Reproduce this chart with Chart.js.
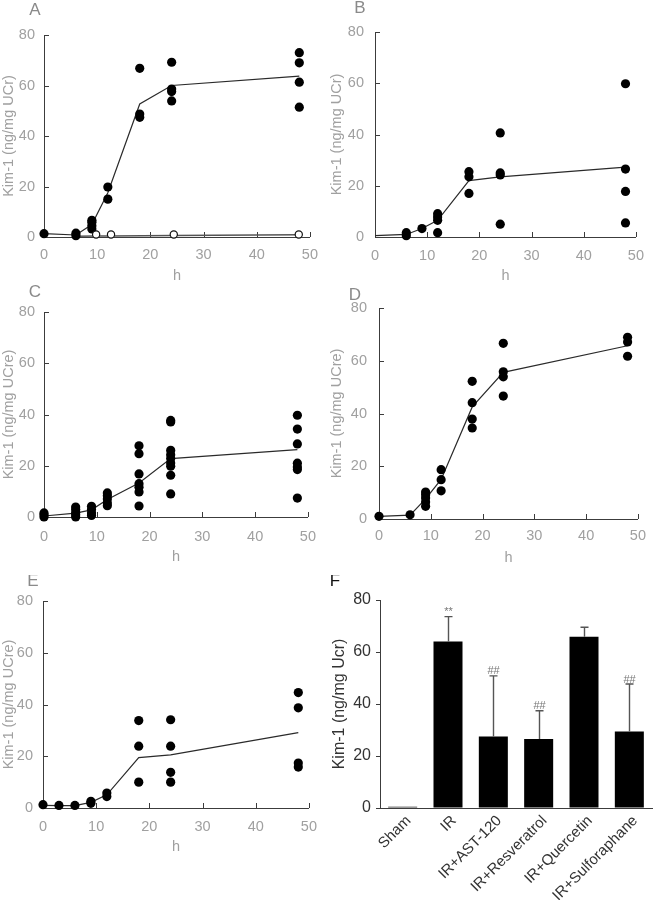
<!DOCTYPE html>
<html><head><meta charset="utf-8">
<script src="https://cdn.jsdelivr.net/npm/chart.js@4.4.1/dist/chart.umd.min.js"></script>
<style>
html,body{margin:0;padding:0;background:#fff;}
body{width:654px;height:900px;position:relative;overflow:hidden;}
canvas{position:absolute;}
</style></head>
<body>
<canvas id="cA"></canvas><canvas id="cB"></canvas><canvas id="cC"></canvas>
<canvas id="cD"></canvas><canvas id="cE"></canvas><canvas id="cF"></canvas>
<script>
// ---------------- DATA ----------------
const tickLabelsX = [0, 10, 20, 30, 40, 50];
const tickLabelsY = [0, 20, 40, 60, 80];

// Panel A (IR)
const hoursA = [0, 6, 9, 12, 18, 24, 48];
const meanA  = [1.3, 0.8, 4.9, 17.5, 52.7, 60.0, 63.7];
const ptsA   = [[1.3], [1.5, 0.5], [6.6, 5.8, 4.5, 3.2], [19.8, 15.0], [66.8, 48.7, 47.4], [69.2, 58.6, 57.6, 53.9], [73.0, 69.0, 61.3, 51.4]];
// Panel A (Sham, open circles)
const shamHoursA = [6, 9.8, 12.6, 24.4, 47.9];
const shamMeanA  = [0.3, 0.4, 0.4, 0.6, 0.9];
const shamPtHoursA = [9.8, 12.6, 24.4, 47.9];
const shamPtsA     = [1.0, 1.0, 1.0, 1.0];

// Panel B
const hoursB = [0, 6, 9, 12, 18, 24, 48];
const meanB  = [0.5, 1.0, 3.3, 6.5, 22.0, 23.5, 27.3];
const ptsB   = [[], [1.7, 0.5], [3.3], [9.1, 7.8, 6.5, 1.7], [25.5, 23.5, 17.0], [40.6, 25.0, 24.2, 5.0], [59.8, 26.5, 17.8, 5.5]];

// Panel C
const hoursC = [0, 6, 9, 12, 18, 24, 48];
const meanC  = [0.4, 1.5, 2.8, 6.8, 13.3, 22.8, 26.3];
const ptsC   = [[1.6, 0.9, 0], [3.9, 2.9, 1.8, 0.9, 0], [4.2, 2.9, 1.6, 0.6], [9.4, 8.3, 7.0, 5.5, 4.4],
                [27.8, 24.7, 16.8, 13.0, 11.6, 9.8, 4.3], [37.7, 37.1, 26.0, 24.3, 22.8, 21.1, 19.8, 16.3, 9.0],
                [39.7, 34.3, 28.5, 21.0, 19.5, 18.5, 7.4]];

// Panel D
const hoursD = [0, 6, 9, 12, 18, 24, 48];
const meanD  = [1.0, 1.5, 7.6, 15.0, 42.5, 55.6, 65.7];
const ptsD   = [[1.0], [1.6], [10.2, 9.2, 8.0, 6.4, 4.8], [18.7, 14.9, 10.7], [52.2, 44.1, 37.9, 34.5], [66.6, 55.8, 53.9, 46.6], [68.9, 67.1, 61.7]];

// Panel E
const hoursE = [0, 3, 6, 9, 12, 18, 24, 48];
const meanE  = [1.0, 0.9, 0.9, 2.2, 5.1, 19.5, 20.5, 29.1];
const ptsE   = [[1.3], [1.0], [1.0], [2.6, 1.8], [5.8, 4.4], [33.8, 23.9, 10.0], [34.1, 23.9, 13.8, 10.0], [44.6, 38.7, 17.4, 15.8]];

// Panel F
const groupsF = ['Sham', 'IR', 'IR+AST-120', 'IR+Resveratrol', 'IR+Quercetin', 'IR+Sulforaphane'];
const meansF  = [0.5, 64.0, 27.5, 26.5, 65.9, 29.4];
const sdF     = [0, 9.6, 23.3, 10.9, 3.6, 18.3];
const marksF  = ['', '**', '##', '##', '', '##'];

// ---------------- STYLE / HELPERS ----------------
const FONT = "'Liberation Sans', Arial, sans-serif";
const GRAY = '#a0a0a0';
const AXIS = '#3c3c3c';
const DARK = '#2a2a2a';

function flatten(hours, pts) {
  const out = [];
  hours.forEach((h, i) => pts[i].forEach(v => out.push({ x: h, y: v })));
  return out;
}
function pairs(xs, ys) { return xs.map((x, i) => ({ x: x, y: ys[i] })); }

function place(id, left, top, w, h) {
  const c = document.getElementById(id);
  c.width = w; c.height = h;
  c.style.left = left + 'px'; c.style.top = top + 'px';
  c.style.width = w + 'px'; c.style.height = h + 'px';
  return c;
}

const panelLabel = {
  id: 'panelLabel',
  afterDraw(chart, args, o) {
    const ctx = chart.ctx;
    ctx.save();
    ctx.fillStyle = o.color;
    ctx.font = '17px ' + FONT;
    ctx.textAlign = 'center';
    ctx.textBaseline = 'middle';
    ctx.fillText(o.text, o.x, o.y);
    ctx.restore();
  }
};

const inwardTicks = {
  id: 'inwardTicks',
  beforeDatasetsDraw(chart) {
    const { ctx, chartArea: a } = chart;
    const xs = chart.scales.x, ys = chart.scales.y;
    ctx.save();
    ctx.strokeStyle = AXIS; ctx.lineWidth = 1;
    ctx.beginPath();
    xs.ticks.forEach(t => {
      const px = Math.round(xs.getPixelForValue(t.value)) + 0.5;
      ctx.moveTo(px, a.bottom); ctx.lineTo(px, a.bottom - 5);
    });
    ys.ticks.forEach(t => {
      const py = Math.round(ys.getPixelForValue(t.value)) + 0.5;
      ctx.moveTo(a.left, py); ctx.lineTo(a.left + 5, py);
    });
    ctx.stroke();
    ctx.restore();
  }
};

function linePanel(p) {
  const W = 327;
  const canvas = place(p.id, p.left, p.top, W, p.h);
  const lh = 14.5 * 1.2;
  const datasets = [
    { type: 'scatter', data: flatten(p.hours, p.pts), pointRadius: 4.6, pointHoverRadius: 4.6,
      backgroundColor: '#000', borderWidth: 0, clip: false, order: 1 },
    { type: 'line', data: pairs(p.hours, p.mean), borderColor: DARK, borderWidth: 1.2,
      pointRadius: 0, fill: false, tension: 0, clip: false, order: 3 }
  ];
  if (p.sham) {
    datasets.push({ type: 'scatter', data: pairs(p.sham.ptHours, p.sham.pts), pointRadius: 3.6,
      backgroundColor: '#fff', borderColor: '#111', borderWidth: 1.2, clip: false, order: 0 });
    datasets.push({ type: 'line', data: pairs(p.sham.hours, p.sham.mean), borderColor: '#555', borderWidth: 1.6,
      pointRadius: 0, fill: false, clip: false, order: 2 });
  }
  new Chart(canvas, {
    data: { datasets },
    options: {
      responsive: false, animation: false, events: [],
      layout: { padding: { left: 0, top: p.T, right: W - p.R, bottom: 0 } },
      plugins: { legend: { display: false }, tooltip: { enabled: false },
        panelLabel: { text: p.letter, x: p.lx, y: p.ly, color: '#8a8a8a' } },
      scales: {
        x: {
          type: 'linear', min: 0, max: 50,
          afterBuildTicks(s) { s.ticks = tickLabelsX.map(v => ({ value: v })); },
          grid: { display: false, drawTicks: false },
          border: { display: true, color: AXIS, width: 1 },
          ticks: { color: GRAY, font: { size: 14.5, family: FONT }, padding: p.xPad, maxRotation: 0 },
          title: { display: true, text: 'h', color: GRAY, font: { size: 14.5, family: FONT },
                   padding: { top: 0, bottom: Math.max(0, p.h - p.hC - lh / 2) } },
          afterFit(s) { s.height = p.h - p.B; }
        },
        y: {
          type: 'linear', min: 0, max: 80,
          afterBuildTicks(s) { s.ticks = tickLabelsY.map(v => ({ value: v })); },
          grid: { display: false, drawTicks: false },
          border: { display: true, color: AXIS, width: 1 },
          ticks: { color: GRAY, font: { size: 14.5, family: FONT }, padding: p.yPad },
          title: { display: true, text: p.ytitle, color: GRAY, font: { size: 14.5, family: FONT },
                   padding: { top: Math.max(0, p.tC - lh / 2), bottom: 0 } },
          afterFit(s) { s.width = p.L; }
        }
      }
    },
    plugins: [inwardTicks, panelLabel]
  });
}

linePanel({ id: 'cA', left: 0, top: 0, h: 290, L: 44, T: 35, R: 312, B: 237,
  hours: hoursA, mean: meanA, pts: ptsA,
  sham: { hours: shamHoursA, mean: shamMeanA, ptHours: shamPtHoursA, pts: shamPtsA },
  ytitle: 'Kim-1 (ng/mg UCr)', tC: 8, yPad: 9, xPad: 9, hC: 276, letter: 'A', lx: 35, ly: 10 });
linePanel({ id: 'cB', left: 327, top: 0, h: 290, L: 48, T: 32, R: 315, B: 237,
  hours: hoursB, mean: meanB, pts: ptsB,
  ytitle: 'Kim-1 (ng/mg UCr)', tC: 10, yPad: 11, xPad: 10, hC: 276, letter: 'B', lx: 33, ly: 8 });
linePanel({ id: 'cC', left: 0, top: 285, h: 290, L: 44, T: 27, R: 315, B: 232,
  hours: hoursC, mean: meanC, pts: ptsC,
  ytitle: 'Kim-1 (ng/mg UCre)', tC: 8, yPad: 9, xPad: 11, hC: 272, letter: 'C', lx: 35, ly: 7 });
linePanel({ id: 'cD', left: 327, top: 285, h: 290, L: 52, T: 23, R: 316, B: 234,
  hours: hoursD, mean: meanD, pts: ptsD,
  ytitle: 'Kim-1 (ng/mg UCre)', tC: 10, yPad: 12, xPad: 8, hC: 273, letter: 'D', lx: 28, ly: 10 });
linePanel({ id: 'cE', left: 0, top: 575, h: 325, L: 43, T: 26, R: 317, B: 233,
  hours: hoursE, mean: meanE, pts: ptsE,
  ytitle: 'Kim-1 (ng/mg UCre)', tC: 8, yPad: 10, xPad: 10, hC: 272, letter: 'E', lx: 33, ly: 6 });

// ---------------- PANEL F ----------------
const errorBars = {
  id: 'errorBars',
  afterDatasetsDraw(chart) {
    const ctx = chart.ctx, ys = chart.scales.y;
    const meta = chart.getDatasetMeta(0);
    ctx.save();
    meta.data.forEach((bar, i) => {
      const x = Math.round(bar.x) + 0.5;
      if (sdF[i] > 0) {
        const top = ys.getPixelForValue(meansF[i] + sdF[i]);
        ctx.strokeStyle = '#555'; ctx.lineWidth = 1.4;
        ctx.beginPath();
        ctx.moveTo(x, bar.y); ctx.lineTo(x, top);
        ctx.moveTo(x - 4, top); ctx.lineTo(x + 4, top);
        ctx.stroke();
        if (marksF[i]) {
          ctx.fillStyle = '#777';
          ctx.font = '11px ' + FONT;
          ctx.textAlign = 'center'; ctx.textBaseline = 'bottom';
          ctx.fillText(marksF[i], x, top + 1);
        }
      }
    });
    ctx.restore();
  }
};

(function () {
  const W = 327, H = 325, L = 53, T = 25, R = 325, B = 233;
  const canvas = place('cF', 327, 575, W, H);
  new Chart(canvas, {
    type: 'bar',
    data: { labels: groupsF, datasets: [{ data: meansF, backgroundColor: ['#333', '#000', '#000', '#000', '#000', '#000'],
      barPercentage: 0.64, categoryPercentage: 1.0, borderWidth: 0 }] },
    options: {
      responsive: false, animation: false, events: [],
      layout: { padding: { left: 0, top: T, right: W - R, bottom: 0 } },
      plugins: { legend: { display: false }, tooltip: { enabled: false },
        panelLabel: { text: 'F', x: 8, y: 6, color: '#111' } },
      scales: {
        x: {
          grid: { display: false, drawTicks: false },
          border: { display: true, color: AXIS, width: 1 },
          ticks: { color: '#333', font: { size: 15, family: FONT }, minRotation: 45, maxRotation: 45,
                   autoSkip: false, padding: 4, labelOffset: 6 },
          afterFit(s) { s.height = H - B; }
        },
        y: {
          min: 0, max: 80,
          afterBuildTicks(s) { s.ticks = tickLabelsY.map(v => ({ value: v })); },
          grid: { display: true, drawOnChartArea: false, drawTicks: true, tickLength: 4, color: AXIS },
          border: { display: true, color: AXIS, width: 1 },
          ticks: { color: '#333', font: { size: 16, family: FONT }, padding: 5 },
          title: { display: true, text: 'Kim-1 (ng/mg Ucr)', color: '#333', font: { size: 16, family: FONT },
                   padding: { top: 3, bottom: 0 } },
          afterFit(s) { s.width = L; }
        }
      }
    },
    plugins: [errorBars, panelLabel]
  });
})();
</script>
</body></html>
